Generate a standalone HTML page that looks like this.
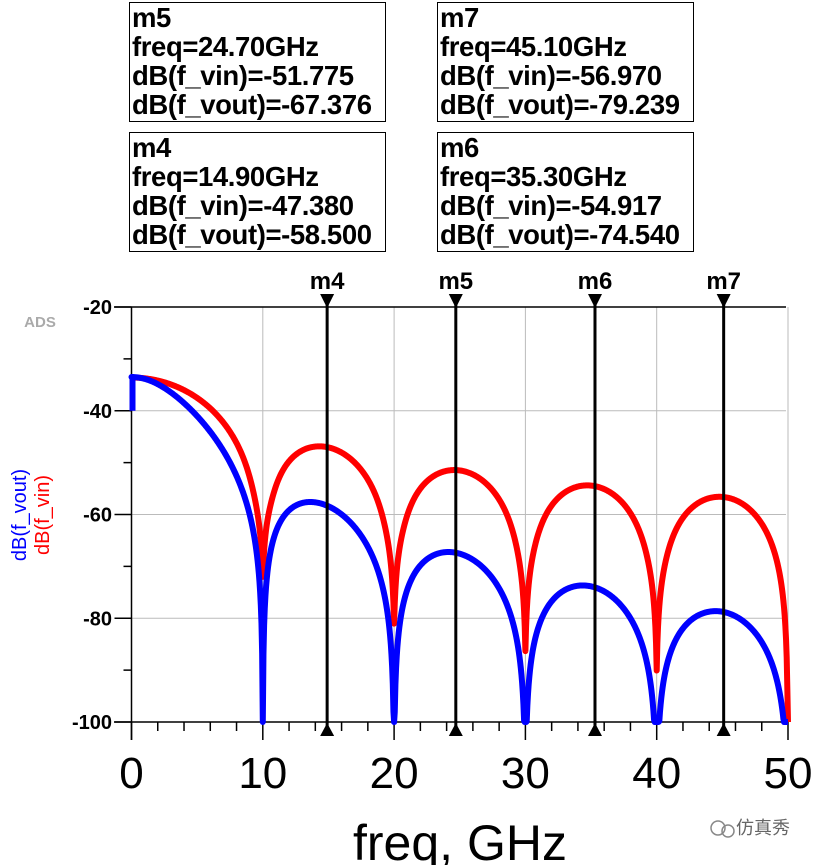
<!DOCTYPE html>
<html><head><meta charset="utf-8"><style>
body{margin:0;background:#fff;width:816px;height:865px;overflow:hidden;font-family:"Liberation Sans",Arial,sans-serif}
.box{position:absolute;border:1.5px solid #000;font-weight:bold;font-size:27.5px;line-height:29px;padding:0 2px;width:257px;height:120px;box-sizing:border-box;letter-spacing:-0.4px;white-space:nowrap}
</style></head><body>
<div class="box" style="left:129px;top:2px">m5<br>freq=24.70GHz<br>dB(f_vin)=-51.775<br>dB(f_vout)=-67.376</div>
<div class="box" style="left:437px;top:2px">m7<br>freq=45.10GHz<br>dB(f_vin)=-56.970<br>dB(f_vout)=-79.239</div>
<div class="box" style="left:129px;top:132px">m4<br>freq=14.90GHz<br>dB(f_vin)=-47.380<br>dB(f_vout)=-58.500</div>
<div class="box" style="left:437px;top:132px">m6<br>freq=35.30GHz<br>dB(f_vin)=-54.917<br>dB(f_vout)=-74.540</div>
<svg id="s" width="816" height="865" style="position:absolute;left:0;top:0" font-family="Liberation Sans, Arial, sans-serif"></svg>
<script>
const X=f=>131.5+f*13.13, Y=d=>307+(-20-d)*5.1875;
let h='';
for(let f=10;f<=50;f+=10)h+=`<line x1="${X(f)}" y1="307" x2="${X(f)}" y2="722" stroke="#bbb" stroke-width="1"/>`;
for(let d=-40;d>=-80;d-=20)h+=`<line x1="131" y1="${Y(d)}" x2="786" y2="${Y(d)}" stroke="#bbb" stroke-width="1"/>`;
h+=`<line x1="114" y1="307" x2="786" y2="307" stroke="#000" stroke-width="1.5"/>`;
h+=`<line x1="131.5" y1="307" x2="131.5" y2="740" stroke="#000" stroke-width="1.5"/>`;
h+=`<line x1="114" y1="722" x2="786" y2="722" stroke="#000" stroke-width="1.5"/>`;
for(let d=-20;d>=-100;d-=10){let len=d%20==0?17:8;h+=`<line x1="${131.5-len}" y1="${Y(d)}" x2="131.5" y2="${Y(d)}" stroke="#000" stroke-width="1.5"/>`;}
for(let d=-20;d>=-100;d-=20)h+=`<text x="112" y="${Y(d)+7}" text-anchor="end" font-size="20" font-weight="bold">${d}</text>`;
for(let f=0;f<=50;f+=2){let len=f%10==0?18:9;h+=`<line x1="${X(f)}" y1="722" x2="${X(f)}" y2="${722+len}" stroke="#000" stroke-width="1.5"/>`;}
for(let f=0;f<=50;f+=10)h+=`<text x="${X(f)}" y="788" text-anchor="middle" font-size="44">${f}</text>`;
h+=`<text x="460" y="860" text-anchor="middle" font-size="50">freq, GHz</text>`;
h+=`<text x="40" y="327" text-anchor="middle" font-size="15" font-weight="bold" fill="#aaa">ADS</text>`;
h+=`<text transform="translate(26,515) rotate(-90)" text-anchor="middle" font-size="20" fill="#00f">dB(f_vout)</text>`;
h+=`<text transform="translate(49,515) rotate(-90)" text-anchor="middle" font-size="20" fill="#f00">dB(f_vin)</text>`;
function sinc(f){let x=Math.PI*f/10;return f==0?1:Math.abs(Math.sin(x)/x);}
function vin(f){let n=Math.round(f/10);let e=0;if(n>=1&&n<=4){let dd=f-n*10;e=0.012/Math.pow(n,1.5)*Math.exp(-dd*dd/0.3);}return -33.6+20*Math.log10(sinc(f)+e);}
function vout(f){let a=4.5-0.023*f;return -33.5+20*Math.log10(sinc(f)+0.0005)-10*Math.log10(1+(f/a)**2);}
function path(fn){let p='';for(let i=0;i<=1000;i++){let f=i*0.05;let d=Math.max(-100,fn(f));p+=(i?'L':'M')+X(f).toFixed(2)+','+Y(d).toFixed(2);}return p;}
h+=`<path d="${path(vin)}" fill="none" stroke="#f00" stroke-width="6" stroke-linejoin="round"/>`;
h+=`<path d="M${X(0)+1},${Y(-40)}L${X(0)+1},${Y(-33.5)}${path(vout).replace('M','L')}" fill="none" stroke="#00f" stroke-width="6" stroke-linejoin="round"/>`;
[[14.9,'m4'],[24.7,'m5'],[35.3,'m6'],[45.1,'m7']].forEach(([f,n])=>{let x=X(f);
h+=`<line x1="${x}" y1="300" x2="${x}" y2="735" stroke="#000" stroke-width="3"/>`;
h+=`<polygon points="${x-7},294 ${x+7},294 ${x},308" fill="#000"/>`;
h+=`<polygon points="${x-7},736 ${x+7},736 ${x},723" fill="#000"/>`;
h+=`<text x="${x}" y="289" text-anchor="middle" font-size="24" font-weight="bold">${n}</text>`;});
h+=`<text x="790" y="834" text-anchor="end" font-size="18" fill="#666" font-family="Liberation Sans, Noto Sans CJK SC, sans-serif">仿真秀</text>`;
h+=`<circle cx="718" cy="828" r="7" fill="none" stroke="#888" stroke-width="1.5"/><circle cx="728" cy="831" r="6" fill="none" stroke="#888" stroke-width="1.5"/>`;
document.getElementById('s').innerHTML=h;
</script>
</body></html>
